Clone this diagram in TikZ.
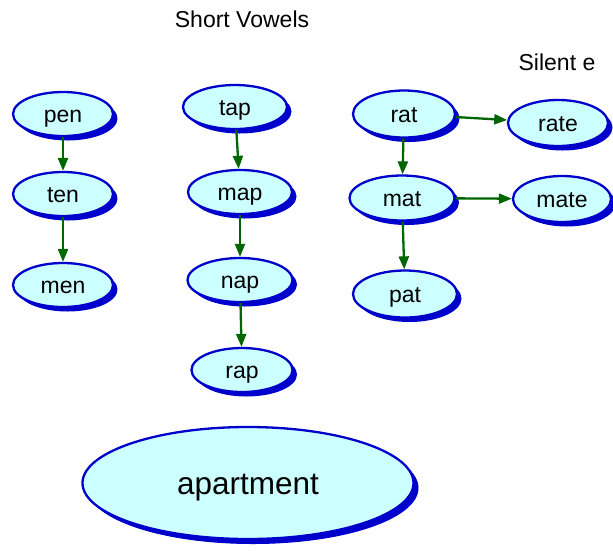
\documentclass[tikz,border=0pt]{standalone}
\usepackage{fontspec}
\setmainfont{Liberation Sans}
\usetikzlibrary{shapes.geometric,shadows,arrows.meta}
\definecolor{nodefill}{HTML}{CCFFFF}
\definecolor{nodeline}{HTML}{0000CC}
\definecolor{edgegreen}{HTML}{006600}
\tikzset{
  word/.style={ellipse, draw=nodeline, line width=2.3pt, fill=nodefill, inner sep=0pt,
    minimum width=100pt, minimum height=44pt, font=\fontsize{23}{26}\selectfont,
    text height=17pt, text depth=0pt,
    general shadow={fill=nodeline, shadow xshift=4.5pt, shadow yshift=-4.5pt}},
  link/.style={draw=edgegreen, line width=2.3pt, -{Triangle[length=13pt,width=10pt]}},
  heading/.style={font=\fontsize{23}{26}\selectfont, inner sep=0pt}
}
\begin{document}
\begin{tikzpicture}[x=1pt,y=-1pt]
\useasboundingbox (0,0) rectangle (613,550);
\node[heading] (hshort) at (242,19) {Short Vowels};
\node[heading] (hsilent) at (557,62) {Silent e};
\node[word] (pen) at (63,114) {pen};
\node[word] (ten) at (63,194) {ten};
\node[word] (men) at (63,285) {men};
\node[word, minimum width=104pt] (tap) at (235,107) {tap};
\node[word, minimum width=104pt] (map) at (240,192) {map};
\node[word, minimum width=105pt] (nap) at (240,280) {nap};
\node[word, minimum width=101pt] (rap) at (242,370) {rap};
\node[word, minimum width=102pt, minimum height=47pt] (rat) at (404,114) {rat};
\node[word, minimum width=105pt, minimum height=45pt] (mat) at (402,198) {mat};
\node[word, minimum width=104pt, minimum height=47pt] (pat) at (405,294) {pat};
\node[word, minimum width=100pt, minimum height=46pt] (rate) at (558,123) {rate};
\node[word, minimum width=98pt, minimum height=46pt] (mate) at (562,199) {mate};
\node[word, minimum width=331pt, minimum height=112pt, font=\fontsize{31.5}{34}\selectfont,
  text height=22pt, text depth=0pt,
  general shadow={fill=nodeline, shadow xshift=5pt, shadow yshift=-5pt}] (apartment) at (248,483) {apartment};
\draw[link] (pen) -- (ten);
\draw[link] (ten) -- (men);
\draw[link] (tap) -- (map);
\draw[link] (map) -- (nap);
\draw[link] (nap) -- (rap);
\draw[link] (rat) -- (mat);
\draw[link] (mat) -- (pat);
\draw[link] (rat) -- (rate);
\draw[link] (mat) -- (mate);
\end{tikzpicture}
\end{document}
